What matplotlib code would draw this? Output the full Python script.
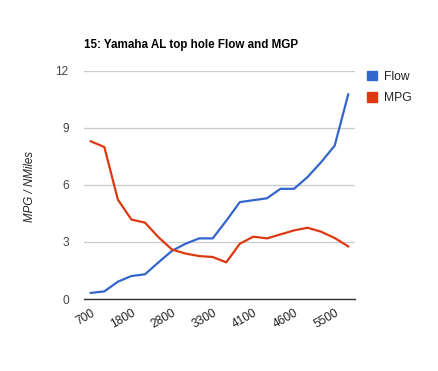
import matplotlib
matplotlib.use("Agg")
import matplotlib.pyplot as plt

tick_labels = ["700", "1800", "2800", "3300", "4100", "4600", "5500"]
tick_every = 3
flow = [0.32, 0.4, 0.91, 1.21, 1.3, 1.93, 2.54, 2.91, 3.19, 3.19,
        4.12, 5.1, 5.2, 5.3, 5.8, 5.8, 6.42, 7.2, 8.07, 10.77]
mpg = [8.3, 8.0, 5.23, 4.18, 4.02, 3.25, 2.6, 2.39, 2.26, 2.21,
       1.93, 2.91, 3.28, 3.19, 3.4, 3.61, 3.75, 3.54, 3.21, 2.77]
yticks = [0, 3, 6, 9, 12]

plt.rcParams['font.family'] = ['Liberation Sans', 'DejaVu Sans']

fig = plt.figure(figsize=(4.39, 3.71), dpi=100)
ax = fig.add_axes([84/439, 1-299/371, 271/439, 228/371])
x = list(range(len(flow)))
ax.plot(x, flow, color='#3366cc', lw=1.6, label='Flow', solid_joinstyle='round')
ax.plot(x, mpg, color='#dc3912', lw=1.6, label='MPG', solid_joinstyle='round')
ax.set_xlim(-0.5, len(flow) - 0.5)
ax.set_ylim(0, 12)
ax.set_yticks(yticks)
ax.set_yticklabels([str(v) for v in yticks], color='#444444', fontsize=8.6)
ax.yaxis.grid(True, color='#cccccc', lw=1)
ax.set_axisbelow(True)
ax.set_xticks(x[::tick_every])
ax.set_xticklabels(tick_labels, rotation=30, ha='right', rotation_mode='anchor',
                   color='#222222', fontsize=8.6)
ax.tick_params(axis='both', length=0)
ax.tick_params(axis='y', pad=11)
ax.tick_params(axis='x', pad=6)
for s in ['top', 'right', 'left']:
    ax.spines[s].set_visible(False)
ax.spines['bottom'].set_color('#333333')
ax.spines['bottom'].set_linewidth(1)
ax.spines['bottom'].set_zorder(5)

fig.text(84/439, 1-45/371, "15: Yamaha AL top hole Flow and MGP", fontsize=8.4,
         fontweight='bold', va='center', ha='left', color='#000000')
fig.text(30/439, 1-187/371, "MPG / NMiles", fontsize=8.3, style='italic',
         rotation=90, va='center', ha='center', color='#222222')

leg = fig.legend(loc='upper left', bbox_to_anchor=(362/439, 1-66/371), frameon=False,
                 handlelength=0.85, handleheight=0.85, fontsize=8.7,
                 handles=[plt.Rectangle((0, 0), 1, 1, color='#3366cc'),
                          plt.Rectangle((0, 0), 1, 1, color='#dc3912')],
                 labels=['Flow', 'MPG'], labelspacing=0.75, handletextpad=0.6,
                 borderaxespad=0)
for t in leg.get_texts():
    t.set_color('#222222')

fig.savefig("out.png", dpi=100)
